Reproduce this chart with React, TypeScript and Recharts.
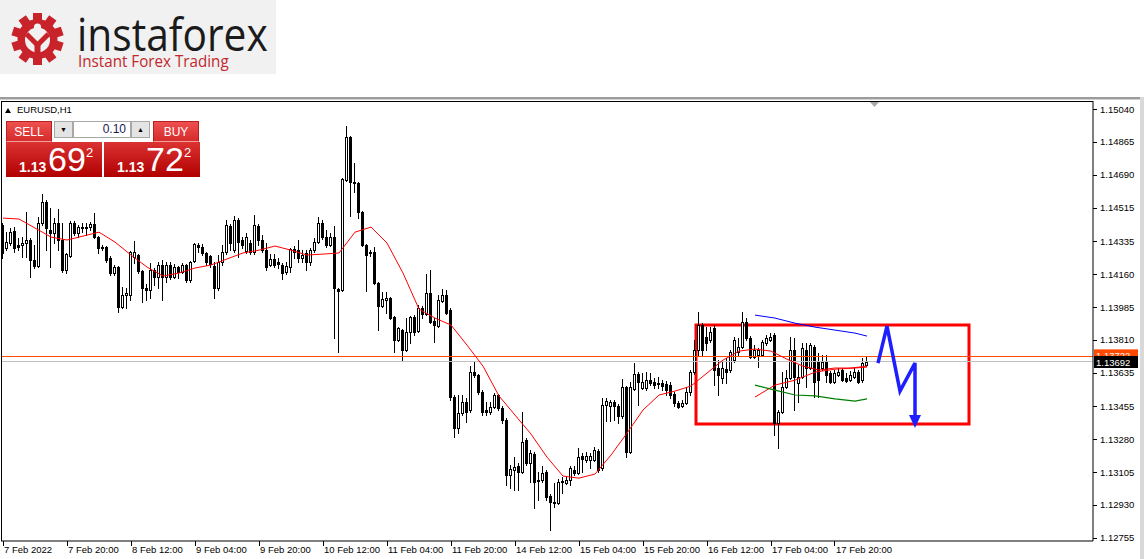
import React from "react";
import { Bar, ComposedChart, Line, ReferenceArea, ReferenceLine, XAxis, YAxis } from "recharts";

// EURUSD H1 bars, 7 Feb 04:00 .. 18 Feb 04:00 (one value per hourly bar)
const open = [
  1.14422, 1.14299, 1.14326, 1.1439, 1.14315, 1.14315, 1.14326, 1.14342, 1.14235, 1.14203,
  1.14432, 1.14544, 1.14395, 1.14379, 1.14432, 1.14342, 1.14182, 1.14257, 1.14432, 1.14379,
  1.14411, 1.14406, 1.14411, 1.14427, 1.14358, 1.14304, 1.14304, 1.14246, 1.14166, 1.14198,
  1.13985, 1.14049, 1.14049, 1.14251, 1.14262, 1.14177, 1.14086, 1.14075, 1.14182, 1.14145,
  1.14209, 1.14145, 1.14209, 1.14145, 1.14198, 1.14171, 1.14209, 1.14129, 1.1423, 1.14315,
  1.14304, 1.14273, 1.14257, 1.14203, 1.14086, 1.14225, 1.14278, 1.14416, 1.14288, 1.14448,
  1.14342, 1.14283, 1.14326, 1.14278, 1.14416, 1.14342, 1.14288, 1.14209, 1.14241, 1.14225,
  1.14209, 1.14171, 1.14198, 1.14294, 1.14288, 1.14246, 1.14273, 1.14225, 1.14288, 1.14331,
  1.14432, 1.14358, 1.14315, 1.14358, 1.14081, 1.14075, 1.14662, 1.14891, 1.14651, 1.14646,
  1.14491, 1.14315, 1.14278, 1.14278, 1.14113, 1.1399, 1.14022, 1.14033, 1.13931, 1.13809,
  1.13862, 1.13755, 1.13851, 1.13931, 1.13857, 1.13979, 1.13947, 1.14059, 1.1391, 1.13883,
  1.14017, 1.14049, 1.13969, 1.13505, 1.1334, 1.1342, 1.13478, 1.13436, 1.13638, 1.13622,
  1.13532, 1.13436, 1.13425, 1.13452, 1.13516, 1.13446, 1.13382, 1.13089, 1.13116, 1.13137,
  1.13105, 1.13276, 1.13153, 1.13201, 1.13063, 1.13063, 1.13105, 1.12977, 1.12945, 1.1294,
  1.13052, 1.13047, 1.13063, 1.13116, 1.131, 1.13191, 1.13169, 1.13169, 1.13169, 1.13217,
  1.13127, 1.13462, 1.13457, 1.13478, 1.13457, 1.13404, 1.13558, 1.13212, 1.13548, 1.13628,
  1.13553, 1.13553, 1.13596, 1.13585, 1.1358, 1.1358, 1.13574, 1.13569, 1.13521, 1.13473,
  1.13457, 1.13473, 1.13532, 1.13638, 1.13755, 1.13889, 1.13825, 1.13809, 1.13873, 1.1366,
  1.13606, 1.13654, 1.13649, 1.13702, 1.13745, 1.13771, 1.13905, 1.13819, 1.13718, 1.13729,
  1.13729, 1.13793, 1.13809, 1.13835, 1.13366, 1.13425, 1.13558, 1.13606, 1.13755, 1.1358,
  1.13612, 1.13755, 1.1366, 1.13771, 1.13692, 1.1366, 1.13692, 1.13633, 1.13585, 1.13622,
  1.13649, 1.13606, 1.13596, 1.13612, 1.13638, 1.13596, 1.13676,
];
const high = [
  1.14432, 1.14384, 1.14406, 1.14411, 1.14352, 1.14358, 1.14491, 1.14352, 1.14315, 1.14464,
  1.14587, 1.14555, 1.14512, 1.14459, 1.14507, 1.14432, 1.14273, 1.14443, 1.14443, 1.14422,
  1.14432, 1.14432, 1.14438, 1.14486, 1.14363, 1.14315, 1.1431, 1.14257, 1.14209, 1.14203,
  1.14091, 1.14086, 1.14283, 1.14336, 1.14267, 1.14182, 1.14107, 1.14219, 1.14193, 1.14225,
  1.14235, 1.14225, 1.14225, 1.14214, 1.14203, 1.14219, 1.14214, 1.1423, 1.14326, 1.14326,
  1.1432, 1.14278, 1.14262, 1.14225, 1.14262, 1.14315, 1.14448, 1.14427, 1.1447, 1.14459,
  1.14358, 1.14379, 1.14342, 1.14475, 1.14427, 1.14368, 1.14326, 1.14267, 1.14267, 1.14246,
  1.14219, 1.14225, 1.14299, 1.1431, 1.14342, 1.14288, 1.14288, 1.14299, 1.14352, 1.14464,
  1.14448, 1.14395, 1.14379, 1.14416, 1.14086, 1.14672, 1.14949, 1.14896, 1.14752, 1.14651,
  1.14496, 1.1432, 1.14288, 1.14304, 1.14118, 1.14065, 1.14065, 1.14038, 1.13937, 1.13878,
  1.13867, 1.13926, 1.13937, 1.13942, 1.13995, 1.1399, 1.14161, 1.14182, 1.13926, 1.14049,
  1.14081, 1.14075, 1.13979, 1.13516, 1.13516, 1.13516, 1.135, 1.1367, 1.13692, 1.13628,
  1.13542, 1.13478, 1.13478, 1.13526, 1.13521, 1.13457, 1.13393, 1.13143, 1.13185, 1.13153,
  1.13425, 1.13286, 1.13222, 1.13212, 1.13105, 1.13137, 1.13116, 1.12988, 1.13047, 1.13068,
  1.13079, 1.13079, 1.13137, 1.13137, 1.13233, 1.13207, 1.13212, 1.13207, 1.13238, 1.13228,
  1.135, 1.135, 1.13489, 1.13489, 1.13468, 1.13601, 1.13564, 1.13585, 1.13686, 1.13638,
  1.13633, 1.13638, 1.13633, 1.13606, 1.13612, 1.13596, 1.1359, 1.13585, 1.13532, 1.13484,
  1.13489, 1.13558, 1.13649, 1.13809, 1.13958, 1.13899, 1.13878, 1.13878, 1.13889, 1.13702,
  1.13692, 1.13713, 1.13755, 1.13825, 1.13819, 1.13958, 1.13926, 1.1383, 1.13782, 1.13766,
  1.13809, 1.13835, 1.13846, 1.13846, 1.13436, 1.13638, 1.13649, 1.13825, 1.13819, 1.13676,
  1.13793, 1.13793, 1.13793, 1.13782, 1.1374, 1.13729, 1.13729, 1.13644, 1.13649, 1.1366,
  1.1366, 1.13633, 1.13644, 1.1366, 1.13649, 1.13713, 1.13718,
];
const low = [
  1.14246, 1.14288, 1.14315, 1.14278, 1.14288, 1.14251, 1.14251, 1.14145, 1.14193, 1.14198,
  1.14422, 1.14288, 1.14198, 1.14326, 1.14288, 1.14171, 1.14166, 1.14251, 1.14368, 1.14358,
  1.14384, 1.14368, 1.14395, 1.14352, 1.14273, 1.14288, 1.14225, 1.14155, 1.14155, 1.13958,
  1.13979, 1.13979, 1.14022, 1.14219, 1.14166, 1.14011, 1.14022, 1.14033, 1.14102, 1.14086,
  1.14022, 1.14118, 1.14134, 1.14139, 1.14139, 1.14166, 1.14118, 1.14118, 1.14225, 1.14278,
  1.14262, 1.14209, 1.14198, 1.14033, 1.14075, 1.14209, 1.14267, 1.14288, 1.14278, 1.14251,
  1.14299, 1.14273, 1.14267, 1.14267, 1.14315, 1.14278, 1.14182, 1.14203, 1.14198, 1.14193,
  1.14134, 1.14161, 1.14171, 1.14246, 1.14225, 1.14225, 1.14182, 1.14209, 1.14278, 1.14326,
  1.14347, 1.14304, 1.1431, 1.13819, 1.13745, 1.1407, 1.14656, 1.1447, 1.14598, 1.14459,
  1.1431, 1.1407, 1.14257, 1.14107, 1.13862, 1.13985, 1.13953, 1.13921, 1.13745, 1.13803,
  1.13702, 1.1375, 1.13793, 1.13835, 1.13851, 1.13926, 1.13942, 1.13899, 1.13798, 1.13878,
  1.14011, 1.13947, 1.13489, 1.13292, 1.13313, 1.13409, 1.13372, 1.13425, 1.13612, 1.13521,
  1.13409, 1.13409, 1.13414, 1.13446, 1.13436, 1.13366, 1.13036, 1.1302, 1.13009, 1.13009,
  1.131, 1.13143, 1.13052, 1.12913, 1.12956, 1.13052, 1.12956, 1.12796, 1.12919, 1.12935,
  1.12993, 1.13041, 1.13036, 1.13089, 1.13095, 1.13105, 1.13159, 1.13127, 1.13164, 1.13105,
  1.13116, 1.13377, 1.13377, 1.13382, 1.13366, 1.13393, 1.13185, 1.13207, 1.13542, 1.13462,
  1.13548, 1.13542, 1.13569, 1.13553, 1.13553, 1.13542, 1.13516, 1.135, 1.13457, 1.13446,
  1.13452, 1.13468, 1.13516, 1.13628, 1.13729, 1.13729, 1.13755, 1.13798, 1.13569, 1.13516,
  1.1358, 1.1358, 1.13638, 1.13692, 1.13729, 1.13766, 1.13809, 1.13713, 1.13713, 1.13665,
  1.13724, 1.13782, 1.13803, 1.13302, 1.13233, 1.1342, 1.13553, 1.13601, 1.13436, 1.13478,
  1.13606, 1.13558, 1.13654, 1.13505, 1.13505, 1.13649, 1.13585, 1.1358, 1.1358, 1.13617,
  1.1359, 1.13585, 1.1359, 1.13606, 1.1358, 1.13585, 1.1367,
];
const close = [
  1.14273, 1.14331, 1.14384, 1.14299, 1.14304, 1.14326, 1.14342, 1.14235, 1.14203, 1.14432,
  1.14544, 1.14406, 1.14379, 1.14432, 1.14342, 1.14182, 1.14267, 1.14432, 1.14379, 1.14411,
  1.14406, 1.14411, 1.14427, 1.14358, 1.14299, 1.14299, 1.14235, 1.14166, 1.14198, 1.13985,
  1.14049, 1.14059, 1.14278, 1.14278, 1.14177, 1.14086, 1.14075, 1.14182, 1.14145, 1.14209,
  1.14145, 1.14209, 1.14145, 1.14198, 1.14171, 1.14209, 1.14129, 1.14225, 1.1432, 1.14304,
  1.14273, 1.14225, 1.14214, 1.14086, 1.14225, 1.14278, 1.14422, 1.14326, 1.14448, 1.14331,
  1.14315, 1.14358, 1.14278, 1.14422, 1.14342, 1.14288, 1.14198, 1.14241, 1.14209, 1.14214,
  1.14166, 1.14203, 1.14294, 1.14278, 1.14246, 1.14262, 1.14225, 1.14288, 1.14331, 1.14432,
  1.14358, 1.14315, 1.14358, 1.14086, 1.1407, 1.14667, 1.14891, 1.14651, 1.14646, 1.14491,
  1.14315, 1.14262, 1.14273, 1.14113, 1.1399, 1.14027, 1.14033, 1.13926, 1.13809, 1.13873,
  1.13755, 1.13851, 1.13931, 1.13851, 1.13979, 1.13947, 1.14059, 1.13905, 1.13889, 1.14022,
  1.14049, 1.13953, 1.13505, 1.1334, 1.1342, 1.13478, 1.13425, 1.13638, 1.13622, 1.13532,
  1.13425, 1.13425, 1.13452, 1.13516, 1.13446, 1.13382, 1.13089, 1.13121, 1.13132, 1.13105,
  1.13265, 1.13153, 1.13207, 1.13052, 1.13057, 1.131, 1.12972, 1.12945, 1.1294, 1.13052,
  1.13057, 1.13063, 1.13127, 1.131, 1.13185, 1.13175, 1.13191, 1.13191, 1.13222, 1.13116,
  1.13462, 1.13484, 1.13478, 1.13457, 1.13404, 1.13558, 1.13212, 1.13558, 1.13628, 1.13585,
  1.13585, 1.13596, 1.1358, 1.13569, 1.13574, 1.13564, 1.13542, 1.13516, 1.13473, 1.13452,
  1.13473, 1.13532, 1.13638, 1.13755, 1.13889, 1.13755, 1.13793, 1.13851, 1.13649, 1.13622,
  1.1366, 1.13638, 1.13745, 1.13809, 1.13771, 1.13905, 1.13819, 1.13718, 1.13755, 1.13755,
  1.13798, 1.13819, 1.13825, 1.13366, 1.13425, 1.13558, 1.13606, 1.13755, 1.13612, 1.13612,
  1.13766, 1.1366, 1.13782, 1.13585, 1.13596, 1.13692, 1.13622, 1.13585, 1.13633, 1.13638,
  1.13596, 1.1359, 1.13622, 1.13638, 1.13585, 1.13686, 1.13692,
];

// red moving average, read every 4th bar
const maValues = [
  1.14459, 1.14454, 1.14406, 1.14358, 1.14342, 1.14363, 1.14384, 1.14331, 1.14262, 1.14198,
  1.1415, 1.14166, 1.14193, 1.14209, 1.14241, 1.14273, 1.14288, 1.1431, 1.14288, 1.14262,
  1.14267, 1.14273, 1.14384, 1.14411, 1.14326, 1.14166, 1.13974, 1.13926, 1.13889, 1.13782,
  1.1367, 1.13511, 1.13409, 1.13308, 1.13185, 1.13084, 1.13073, 1.13095, 1.13196, 1.13313,
  1.13436, 1.13516, 1.13537, 1.13564, 1.13633, 1.13702, 1.1375, 1.13761, 1.1375, 1.13707,
  1.1367, 1.13649, 1.1366, 1.1366, 1.1367,
];

// short channel lines over the last bars
const bandIdx = [188, 193, 198, 203, 208, 213, 216];
const blueBand = [1.13942, 1.13926, 1.13899, 1.13878, 1.13862, 1.13846, 1.1383];
const redBand = [1.13505, 1.13569, 1.13595, 1.13638, 1.13654, 1.1366, 1.13665];
const greenBand = [1.13569, 1.13542, 1.13516, 1.13511, 1.13495, 1.13484, 1.13495];

// hand-drawn forecast: zigzag + box
const zigIdx = [218.75, 221, 224.25, 228, 228];
const zigPrice = [1.13686, 1.13883, 1.13537, 1.13686, 1.13409];
const boxIdx = [173.25, 241.5];
const boxPrice = [1.13361, 1.13889];

const askPrice = 1.13722;
const bidPrice = 1.13692;

const tickIdx = [0, 16, 32, 48, 64, 80, 96, 112, 128, 144, 160, 176, 192, 208];
const tickLabels = [
  "7 Feb 2022", "7 Feb 20:00", "8 Feb 12:00", "9 Feb 04:00", "9 Feb 20:00", "10 Feb 12:00",
  "11 Feb 04:00", "11 Feb 20:00", "14 Feb 12:00", "15 Feb 04:00", "15 Feb 20:00",
  "16 Feb 12:00", "17 Feb 04:00", "17 Feb 20:00",
];
const priceTicks = [
  1.1504, 1.14865, 1.1469, 1.14515, 1.14335, 1.1416, 1.13985, 1.1381, 1.13635, 1.13455,
  1.1328, 1.13105, 1.1293, 1.12755,
];

const bars = open.map((o, i) => ({ i, open: o, high: high[i], low: low[i], close: close[i] }));
const maData = maValues.map((v, k) => ({ i: k * 4, v }));
const band = (vals: number[]) => bandIdx.map((i, k) => ({ i, v: vals[k] }));
const zigData = zigIdx.map((i, k) => ({ i, v: zigPrice[k] }));

const FONT = "'Liberation Sans', Arial, sans-serif";
const ZIG = "#1e1eff";
const LOGO_RED = "#c8232b";

function Candle(props: any) {
  const { x, y, width, height, payload } = props;
  if (!payload || x == null || y == null) return null;
  const { open: o, high: h, low: l, close: c } = payload;
  const top = Math.min(y, y + height);
  const hgt = Math.abs(height);
  const k = h > l ? hgt / (h - l) : 0;
  const py = (v: number) => Math.round(top + (h - v) * k);
  const cx = Math.floor(x + width / 2);
  const bTop = py(Math.max(o, c));
  const bBot = py(Math.min(o, c));
  const up = c >= o;
  return (
    <g shapeRendering="crispEdges">
      <line x1={cx + 0.5} x2={cx + 0.5} y1={py(h)} y2={py(l) + 1} stroke="#000" />
      <rect x={cx - 0.5} y={bTop + 0.5} width={2} height={Math.max(bBot - bTop, 1)}
        fill={up ? "#fff" : "#000"} stroke="#000" />
    </g>
  );
}

function XTick(props: any) {
  const { x, payload } = props;
  const label = tickLabels[tickIdx.indexOf(payload.value)];
  const px = Math.floor(x) + 0.5;
  return (
    <g>
      <line x1={px} x2={px} y1={541} y2={546} stroke="#000" shapeRendering="crispEdges" />
      <text x={x + 1} y={553} fontSize={9.5} fontFamily={FONT} fill="#000" textAnchor="start">{label}</text>
    </g>
  );
}

function YTick(props: any) {
  const { y, payload } = props;
  const py = Math.round(y) + 0.5;
  return (
    <g>
      <line x1={1093} x2={1097} y1={py} y2={py} stroke="#000" shapeRendering="crispEdges" />
      <text x={1100} y={y + 3.5} fontSize={9.5} fontFamily={FONT} fill="#000">{payload.value.toFixed(5)}</text>
    </g>
  );
}

function PriceTag(props: any) {
  const { viewBox, text, fill, color, top } = props;
  if (!viewBox) return null;
  const x = viewBox.x + viewBox.width;
  const y = viewBox.y;
  return (
    <g>
      <rect x={x + 1} y={y + top} width={44} height={12} fill={fill} />
      <text x={x + 3} y={y + top + 10} fontSize={9.5} fontFamily={FONT} fill={color}>{text}</text>
    </g>
  );
}

function Logo() {
  const teeth = [0, 36, 72, 108, 144, 180, 216, 252, 288, 324];
  return (
    <svg width={276} height={74} style={{ position: "absolute", left: 0, top: 0 }}>
      <rect width={276} height={74} fill="#f1f1f1" />
      <g transform="translate(37.5,39)">
        {teeth.map((a) => (
          <rect key={a} x={-4.5} y={-26} width={9} height={10} fill={LOGO_RED} transform={`rotate(${a})`} />
        ))}
        <circle r={20} fill={LOGO_RED} />
        <circle r={12.5} cy={1} fill="#f1f1f1" />
        <circle cx={0} cy={-12} r={3.6} fill="#f1f1f1" />
        <path d="M-11 -5 L0 6 L11 -5" stroke={LOGO_RED} strokeWidth={5} fill="none" />
        <rect x={-3} y={3} width={6} height={16} fill={LOGO_RED} />
      </g>
      <g transform="translate(77,51) scale(0.885,1)">
        <text x={0} y={0} fontSize={46} fontFamily="'Open Sans', sans-serif" fill="#1b1b1b">instaforex</text>
      </g>
      <g transform="translate(78,67) scale(0.95,1)">
        <text x={0} y={0} fontSize={16} fontFamily="'Open Sans', sans-serif" fill="#c1272d">Instant Forex Trading</text>
      </g>
    </svg>
  );
}

const btnRed: React.CSSProperties = {
  position: "absolute", top: 121, width: 46, height: 21, color: "#fff", fontSize: 12,
  textAlign: "center", lineHeight: "20px", boxSizing: "border-box",
  background: "linear-gradient(#ef5050, #d52b2b)", border: "1px solid #b82020",
  borderBottom: "1px solid #f3a0a0",
};
const priceBox: React.CSSProperties = {
  position: "absolute", top: 142, width: 96, height: 35, color: "#fff",
  background: "linear-gradient(#dc3232, #b10000)", boxSizing: "border-box",
};
const spin: React.CSSProperties = {
  position: "absolute", top: 121, width: 19, height: 17, background: "#e4e4e4",
  border: "1px solid #a8a8a8", boxSizing: "border-box", fontSize: 7, textAlign: "center",
  lineHeight: "15px", color: "#000",
};

function PriceBox({ left, big }: { left: number; big: string }) {
  return (
    <div style={{ ...priceBox, left }}>
      <span style={{ position: "absolute", left: 13, top: 17, fontSize: 14, fontWeight: 700 }}>1.13</span>
      <span style={{ position: "absolute", left: 42, top: -2, fontSize: 34 }}>{big}</span>
      <span style={{ position: "absolute", left: 80, top: 3, fontSize: 13 }}>2</span>
    </div>
  );
}

export default function App() {
  return (
    <div style={{ position: "fixed", left: 0, top: 0, width: 1144, height: 559, background: "#fff",
      overflow: "hidden", fontFamily: FONT }}>
      <Logo />
      <div style={{ position: "absolute", left: 0, top: 97, width: 1140, height: 2, background: "#9c9c9c" }} />
      <div style={{ position: "absolute", left: 0, top: 99, width: 1140, height: 1, background: "#d0d0d0" }} />
      <div style={{ position: "absolute", left: 1140, top: 97, width: 4, height: 462, background: "#d9d9d9" }} />

      <div style={{ position: "absolute", left: 0, top: 0 }}>
        <ComposedChart width={1144} height={559} data={bars} margin={{ top: 101, right: 1, bottom: 0, left: 1 }}>
          <XAxis dataKey="i" type="number" domain={[-0.5, 272.5]} ticks={tickIdx} interval={0}
            allowDataOverflow height={18} tickSize={0} tickMargin={0} tickLine={false}
            axisLine={{ stroke: "#000" }} tick={<XTick />} />
          <XAxis xAxisId="ov" dataKey="i" type="number" domain={[-0.5, 272.5]} allowDataOverflow hide />
          <YAxis orientation="right" type="number" domain={[1.12738, 1.15083]} ticks={priceTicks}
            interval={0} allowDataOverflow width={50} tickSize={0} tickMargin={0} tickLine={false}
            axisLine={{ stroke: "#000" }} tick={<YTick />} />

          <ReferenceLine y={askPrice} stroke="#ff4a00" shapeRendering="crispEdges"
            label={<PriceTag text="1.13722" fill="#ff4a00" color="#fff" top={-7} />} />
          <ReferenceLine y={bidPrice} stroke="#c0c0c0" shapeRendering="crispEdges"
            label={<PriceTag text="1.13692" fill="#000" color="#fff" top={-6} />} />

          <Bar dataKey={(d: any) => [d.low, d.high]} barSize={3} shape={<Candle />} isAnimationActive={false} />

          <Line xAxisId="ov" data={maData} dataKey="v" type="linear" stroke="#ff0000" strokeWidth={1}
            dot={false} activeDot={false} isAnimationActive={false} />
          <Line xAxisId="ov" data={band(blueBand)} dataKey="v" type="linear" stroke="#0000ff" strokeWidth={1}
            dot={false} activeDot={false} isAnimationActive={false} />
          <Line xAxisId="ov" data={band(redBand)} dataKey="v" type="linear" stroke="#ff0000" strokeWidth={1}
            dot={false} activeDot={false} isAnimationActive={false} />
          <Line xAxisId="ov" data={band(greenBand)} dataKey="v" type="linear" stroke="#008000" strokeWidth={1.2}
            dot={false} activeDot={false} isAnimationActive={false} />

          <ReferenceArea xAxisId="ov" x1={boxIdx[0]} x2={boxIdx[1]} y1={boxPrice[0]} y2={boxPrice[1]}
            fill="none" stroke="#ff0000" strokeWidth={3} ifOverflow="visible" />
          <Line xAxisId="ov" data={zigData} dataKey="v" type="linear" stroke={ZIG} strokeWidth={3.5}
            strokeLinejoin="miter" activeDot={false} isAnimationActive={false}
            dot={(p: any) =>
              p.index === zigIdx.length - 1 ? (
                <polygon key="head" points={`${p.cx - 6},${p.cy} ${p.cx + 6},${p.cy} ${p.cx},${p.cy + 13}`} fill={ZIG} />
              ) : (
                <g key={`z${p.index}`} />
              )
            } />
        </ComposedChart>
      </div>

      {/* plot frame top/left */}
      <div style={{ position: "absolute", left: 1, top: 101, width: 1092, height: 440, borderTop: "1px solid #000",
        borderLeft: "1px solid #000", boxSizing: "border-box", pointerEvents: "none" }} />
      <svg width={10} height={8} style={{ position: "absolute", left: 870, top: 102 }}>
        <polygon points="0,0 9,0 4.5,5" fill="#a8a8a8" />
      </svg>

      {/* one-click trading panel */}
      <svg width={8} height={8} style={{ position: "absolute", left: 5, top: 107 }}>
        <polygon points="0,6 6,6 3,1" fill="#000" />
      </svg>
      <div style={{ position: "absolute", left: 17, top: 104, fontSize: 9.5, color: "#000" }}>EURUSD,H1</div>
      <div style={{ ...btnRed, left: 6 }}>SELL</div>
      <div style={{ ...spin, left: 54 }}>▼</div>
      <div style={{ position: "absolute", left: 73, top: 121, width: 58, height: 17, background: "#fff",
        border: "1px solid #a8a8a8", boxSizing: "border-box", fontSize: 12, textAlign: "right",
        paddingRight: 4, lineHeight: "15px", color: "#1a1a50" }}>0.10</div>
      <div style={{ ...spin, left: 131 }}>▲</div>
      <div style={{ ...btnRed, left: 153 }}>BUY</div>
      <PriceBox left={6} big="69" />
      <PriceBox left={104} big="72" />
    </div>
  );
}
